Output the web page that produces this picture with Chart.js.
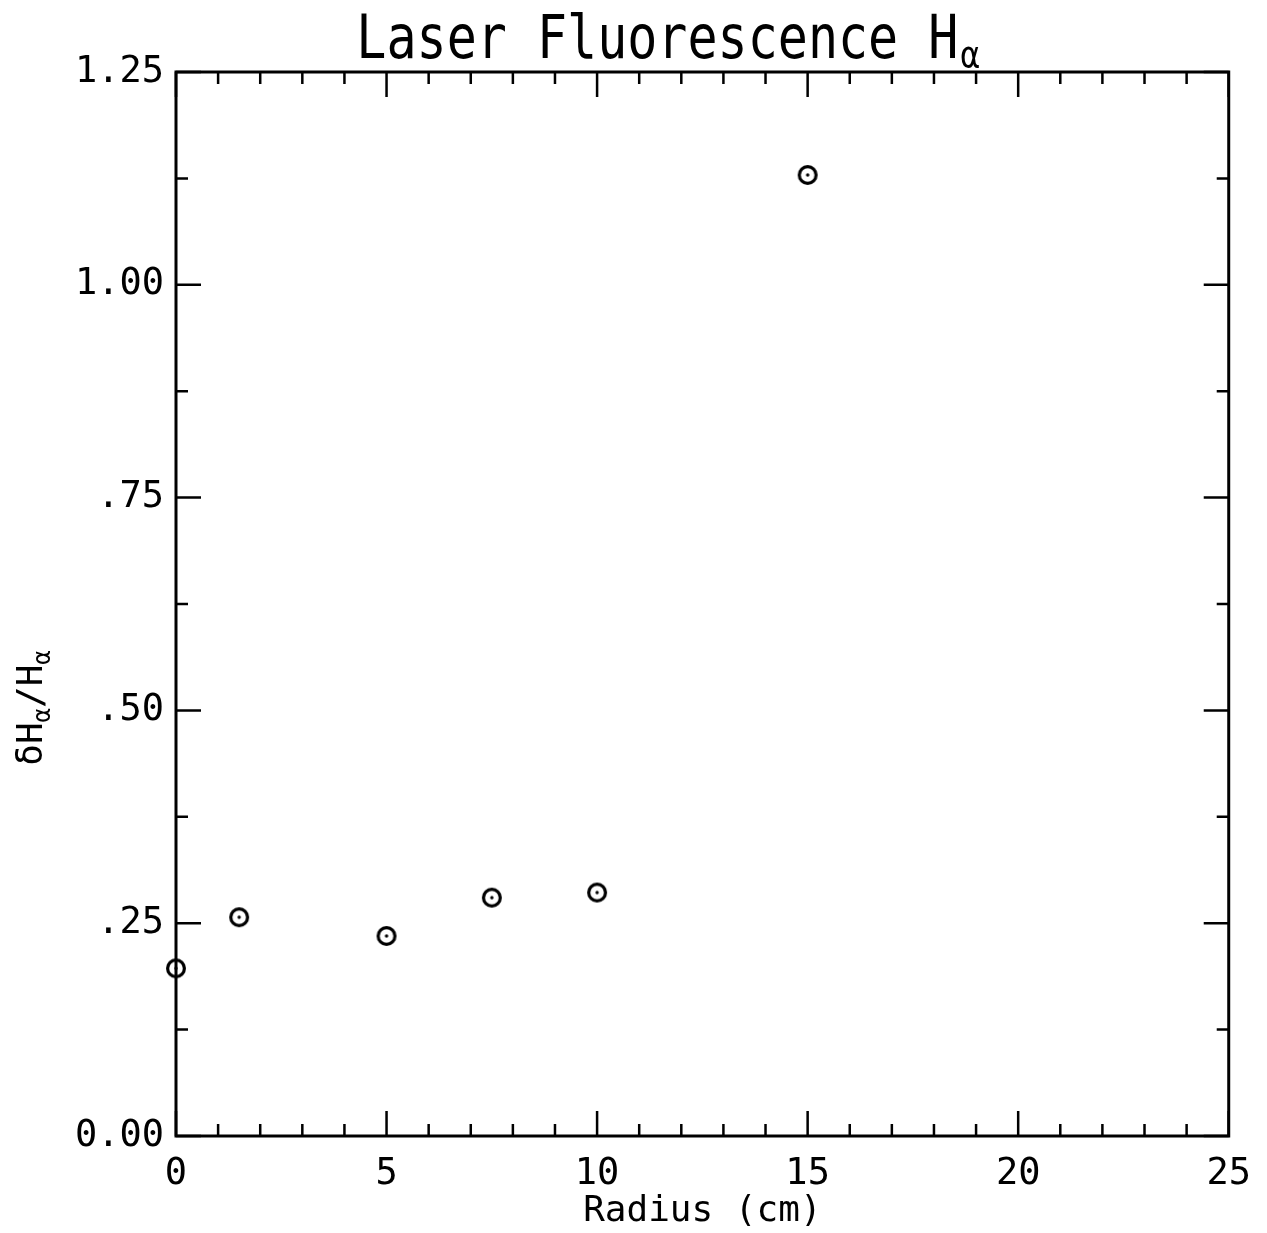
<!DOCTYPE html>
<html>
<head>
<meta charset="utf-8">
<script src="https://cdn.jsdelivr.net/npm/chart.js@4"></script>
<style>
  html, body { margin: 0; padding: 0; background: #fff; }
  #wrap { width: 1267px; height: 1233px; }
</style>
</head>
<body>
<div id="wrap"><canvas id="chart"></canvas></div>
<script>
// data
const radius = [0, 1.5, 5, 7.5, 10, 15];
const dHaRatio = [0.197, 0.257, 0.235, 0.280, 0.286, 1.129];

// tick labels
const xTickValues = [0, 5, 10, 15, 20, 25];
const xTickLabels = ["0", "5", "10", "15", "20", "25"];
const yTickValues = [0, 0.25, 0.5, 0.75, 1.0, 1.25];
const yTickLabels = ["0.00", ".25", ".50", ".75", "1.00", "1.25"];

const FONT = "'DejaVu Sans Mono', monospace";

// open circle with a dot in the middle
const marker = document.createElement("canvas");
marker.width = 26;
marker.height = 26;
(function () {
  const c = marker.getContext("2d");
  c.strokeStyle = "#000";
  c.lineWidth = 3.2;
  c.beginPath();
  c.arc(13, 13, 8.4, 0, Math.PI * 2);
  c.stroke();
  c.fillStyle = "#000";
  c.beginPath();
  c.arc(13, 13, 1.7, 0, Math.PI * 2);
  c.fill();
})();

function labelFor(values, labels, v) {
  const i = values.findIndex((t) => Math.abs(t - v) < 1e-6);
  return i >= 0 ? labels[i] : "";
}

// frame, inward ticks on all four sides, title and y axis label
const framePlugin = {
  id: "frame",
  afterDraw(chart) {
    const ctx = chart.ctx;
    const a = chart.chartArea;
    const xs = chart.scales.x;
    const ys = chart.scales.y;
    ctx.save();
    ctx.strokeStyle = "#000";
    ctx.lineWidth = 3;
    ctx.strokeRect(a.left, a.top, a.right - a.left, a.bottom - a.top);

    ctx.lineWidth = 2.5;
    ctx.beginPath();
    xs.ticks.forEach((t) => {
      const px = xs.getPixelForValue(t.value);
      const len = labelFor(xTickValues, xTickLabels, t.value) ? 25 : 12;
      ctx.moveTo(px, a.bottom);
      ctx.lineTo(px, a.bottom - len);
      ctx.moveTo(px, a.top);
      ctx.lineTo(px, a.top + len);
    });
    ys.ticks.forEach((t) => {
      const py = ys.getPixelForValue(t.value);
      const len = labelFor(yTickValues, yTickLabels, t.value) ? 25 : 12;
      ctx.moveTo(a.left, py);
      ctx.lineTo(a.left + len, py);
      ctx.moveTo(a.right, py);
      ctx.lineTo(a.right - len, py);
    });
    ctx.stroke();

    ctx.fillStyle = "#000";
    ctx.textBaseline = "alphabetic";

    // title, stretched a little upward like the plotter lettering
    const main = "Laser Fluorescence H";
    ctx.save();
    ctx.translate(0, 58);
    ctx.scale(1, 1.2);
    ctx.font = "50px " + FONT;
    const w1 = ctx.measureText(main).width;
    ctx.font = "32px " + FONT;
    const w2 = ctx.measureText("α").width;
    const x0 = 667 - (w1 + w2) / 2;
    ctx.font = "50px " + FONT;
    ctx.fillText(main, x0, 0);
    ctx.font = "32px " + FONT;
    ctx.fillText("α", x0 + w1 + 2, 8);
    ctx.restore();

    // y axis label, rotated
    ctx.translate(42, 708);
    ctx.rotate(-Math.PI / 2);
    const parts = [["δH", 36, 0], ["α", 24, 8], ["/H", 36, 0], ["α", 24, 8]];
    let total = 0;
    parts.forEach((p) => {
      ctx.font = p[1] + "px " + FONT;
      total += ctx.measureText(p[0]).width;
    });
    let cx = -total / 2;
    parts.forEach((p) => {
      ctx.font = p[1] + "px " + FONT;
      ctx.fillText(p[0], cx, p[2]);
      cx += ctx.measureText(p[0]).width;
    });
    ctx.restore();
  }
};

new Chart(document.getElementById("chart"), {
  type: "scatter",
  data: {
    datasets: [
      {
        label: "δHα/Hα",
        data: radius.map((r, i) => ({ x: r, y: dHaRatio[i] })),
        pointStyle: marker,
        pointRadius: 11,
        clip: false,
        showLine: false
      }
    ]
  },
  options: {
    responsive: true,
    maintainAspectRatio: false,
    animation: false,
    layout: { padding: { top: 72, right: 33, left: 0, bottom: 0 } },
    plugins: {
      legend: { display: false },
      tooltip: { enabled: false },
      title: { display: false }
    },
    scales: {
      x: {
        type: "linear",
        min: 0,
        max: 25,
        grid: { display: false, drawTicks: false },
        border: { display: false },
        ticks: {
          stepSize: 1,
          autoSkip: false,
          maxRotation: 0,
          padding: 16,
          color: "#000",
          font: { family: FONT, size: 37 },
          callback: (v) => labelFor(xTickValues, xTickLabels, v)
        },
        title: {
          display: true,
          text: "Radius (cm)",
          color: "#000",
          font: { family: FONT, size: 36 },
          padding: 0
        },
        afterFit: (s) => { s.height = 97; }
      },
      y: {
        type: "linear",
        min: 0,
        max: 1.25,
        grid: { display: false, drawTicks: false },
        border: { display: false },
        ticks: {
          stepSize: 0.125,
          autoSkip: false,
          padding: 12,
          color: "#000",
          font: { family: FONT, size: 37 },
          callback: (v) => labelFor(yTickValues, yTickLabels, v)
        },
        afterFit: (s) => { s.width = 176; }
      }
    }
  },
  plugins: [framePlugin]
});
</script>
</body>
</html>
